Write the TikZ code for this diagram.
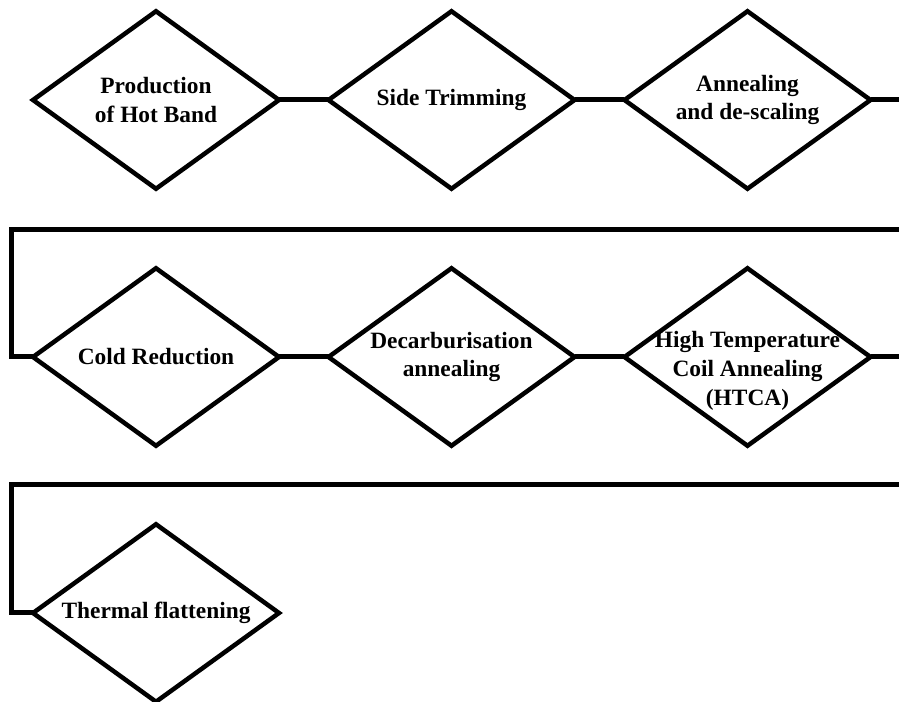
\documentclass[tikz,border=0pt]{standalone}
\usepackage{fontspec}
\setmainfont{Liberation Serif}
\usepackage{tikz}
\usetikzlibrary{shapes.geometric}
\tikzset{
    mystage/.style = {diamond, draw=black, line width=0.09cm, fill=white, minimum width=4.92cm, minimum height=3.55cm, inner sep=0pt, outer sep=0pt},
    mytext/.style = {align=center, inner sep=0pt, font=\bfseries\fontsize{13.3}{16.3}\selectfont},
}

\begin{document}
\begin{tikzpicture}
\tikzset{
    edgen/.style = {-, line width=0.1cm, black},
}
\useasboundingbox (0,0) rectangle (17.98,-14.04);
\node[mystage, label={[mytext]center:{Production\\of Hot Band}}] at (3.12,-2.00) (a) {};
\node[mystage, label={[mytext]center:{Side Trimming}}] at (9.03,-2.00) (b) {};
\node[mystage, label={[mytext]center:{Annealing\\and de-scaling}}] at (14.95,-2.00) (c) {};
\node[mystage, label={[mytext]center:{Cold Reduction}}] at (3.12,-7.14) (d) {};
\node[mystage, label={[mytext]center:{Decarburisation\\annealing}}] at (9.03,-7.14) (e) {};
\node[mystage, label={[mytext,yshift=-0.28cm]center:{High Temperature\\Coil Annealing\\(HTCA)}}] at (14.95,-7.14) (f) {};
\node[mystage, label={[mytext]center:{Thermal flattening}}] at (3.12,-12.26) (g) {};
%
\coordinate (ra) at (17.98,-2.00);
\coordinate (la) at (17.98,-4.59);
\coordinate (ka) at (0.23,-4.59);
\coordinate (rb) at (17.98,-7.14);
\coordinate (lb) at (17.98,-9.70);
\coordinate (kb) at (0.23,-9.70);
%
\draw[edgen] (a) edge (b);
\draw[edgen] (b) edge (c);
\draw[edgen] (c.east) -- (ra);
%
\draw[edgen] (la) -- (ka) |- (d.west);
\draw[edgen] (d) edge (e);
\draw[edgen] (e) edge (f);
\draw[edgen] (f.east) -- (rb);
%
\draw[edgen] (lb) -- (kb) |- (g.west);
\end{tikzpicture}
\end{document}
